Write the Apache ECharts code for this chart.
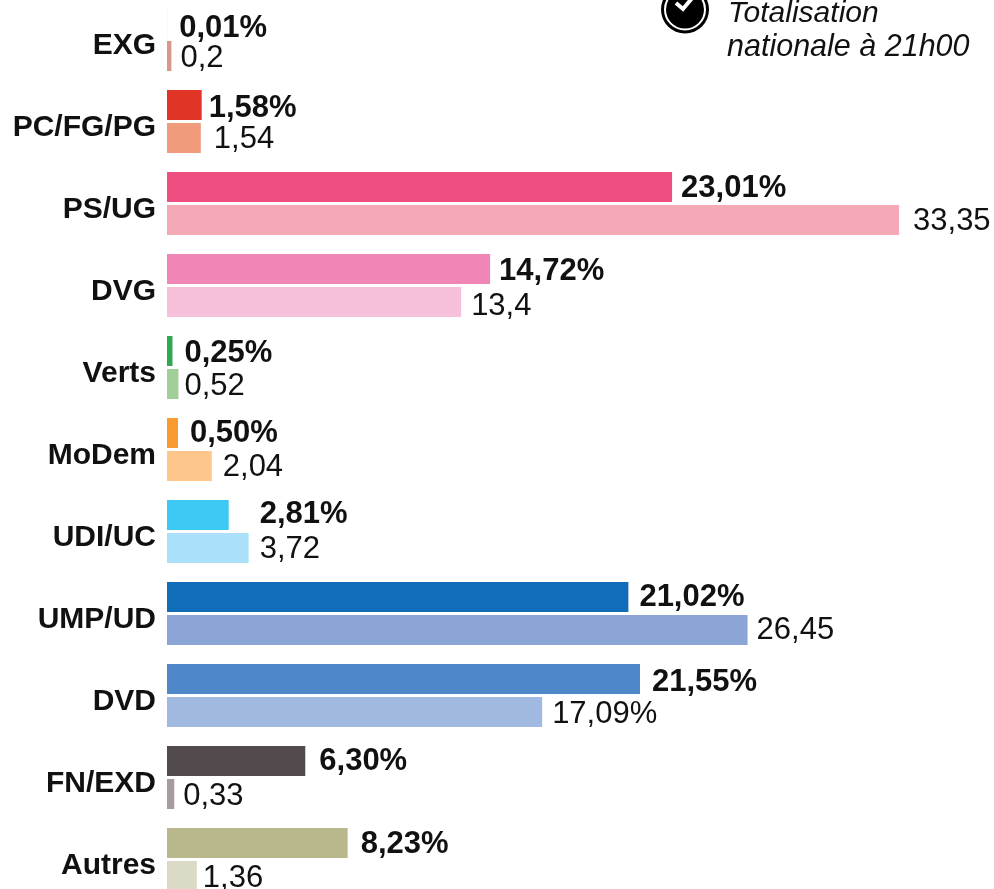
<!DOCTYPE html>
<html><head><meta charset="utf-8">
<style>html,body{margin:0;padding:0;background:#fff}#c{width:994px;height:889px}</style>
<script src="https://cdn.jsdelivr.net/npm/echarts@6/dist/echarts.min.js"></script></head>
<body><div id="c"></div>
<script>
const categories=['EXG','PC/FG/PG','PS/UG','DVG','Verts','MoDem','UDI/UC','UMP/UD','DVD','FN/EXD','Autres'];
const values2014=[0.01,1.58,23.01,14.72,0.25,0.50,2.81,21.02,21.55,6.30,8.23];
const values2008=[0.2,1.54,33.35,13.4,0.52,2.04,3.72,26.45,17.09,0.33,1.36];
const labels2014=['0,01%','1,58%','23,01%','14,72%','0,25%','0,50%','2,81%','21,02%','21,55%','6,30%','8,23%'];
const labels2008=['0,2','1,54','33,35','13,4','0,52','2,04','3,72','26,45','17,09%','0,33','1,36'];
const colors2014=['#efd9d4','#e03526','#ee4e80','#ef86b6','#2fa84f','#f99b2e','#3ec8f4','#116db7','#4f88c8','#534a4e','#b9b78c'];
const colors2008=['#d8978a','#f09c7c','#f5a8b5','#f6c0da','#a2cf98','#fdc78b','#abe0fb','#8aa5d6','#a1b9e1','#a89b9f','#dadac6'];
const gaps2014=[12,7,9,9,12,12,31,11,12,14,13];
const gaps2008=[9,13,14,10,6,11,11,9,10,9,6];
const shifts2014=[5,3,1,2,2,0,-1,0,3,0,1];
const shifts2008=[2,1,1,4,2,1,1,0,2,2,2];
const FONT='"Liberation Sans",Arial,sans-serif';
const chart=echarts.init(document.getElementById('c'),null,{renderer:'canvas'});
function build(vals,cols,labs,gaps,shifts,weight){
  return vals.map((v,i)=>({value:v,itemStyle:{color:cols[i]},
    label:{show:true,position:'right',distance:gaps[i],formatter:labs[i],fontFamily:FONT,fontSize:31,fontWeight:weight,color:'#111',offset:[0,shifts[i]]}}));
}
chart.setOption({
  animation:false,
  grid:{left:167,top:-1.5,width:878,height:902,containLabel:false,outerBoundsMode:'none'},
  xAxis:{type:'value',min:0,max:40,show:false},
  yAxis:{type:'category',inverse:true,data:categories,
    axisLine:{show:false},axisTick:{show:false},splitLine:{show:false},
    axisLabel:{fontFamily:FONT,fontSize:30,fontWeight:'bold',color:'#111',margin:11,verticalAlign:'top',lineHeight:12}},
  series:[
    {type:'bar',barWidth:30,barGap:'10%',data:build(values2014,colors2014,labels2014,gaps2014,shifts2014,'bold')},
    {type:'bar',barWidth:30,barGap:'10%',data:build(values2008,colors2008,labels2008,gaps2008,shifts2008,'normal')}
  ],
  graphic:[
    {type:'circle',shape:{cx:685,cy:9.5,r:24},style:{fill:'#000',stroke:null}},
    {type:'circle',shape:{cx:685,cy:9.5,r:20},style:{fill:'#000',stroke:'#fff',lineWidth:2}},
    {type:'polyline',shape:{points:[[676,3],[683,9],[693,-3]]},style:{fill:null,stroke:'#fff',lineWidth:4}},
    {type:'text',left:728,top:-1,style:{text:'Totalisation',fontFamily:FONT,fontSize:30,fontStyle:'italic',fill:'#111'}},
    {type:'text',left:727,top:33,style:{text:'nationale à 21h00',fontFamily:FONT,fontSize:30.5,fontStyle:'italic',fill:'#111'}}
  ]
});
</script></body></html>
